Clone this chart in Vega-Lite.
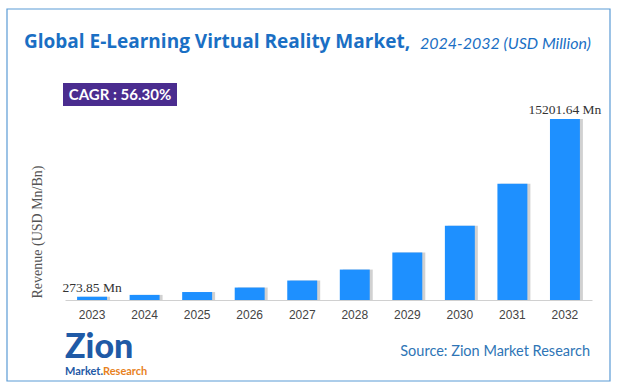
{
  "$schema": "https://vega.github.io/schema/vega-lite/v6.json",
  "width": 527,
  "height": 220,
  "autosize": {"type": "none"},
  "padding": {"left": 65, "right": 26, "top": 80, "bottom": 91},
  "background": "white",
  "config": {"view": {"stroke": null}},
  "data": {"values": [
    {"year": "2023", "revenue": 273.85, "label": "273.85 Mn"},
    {"year": "2024", "revenue": 428, "label": ""},
    {"year": "2025", "revenue": 669, "label": ""},
    {"year": "2026", "revenue": 1046, "label": ""},
    {"year": "2027", "revenue": 1635, "label": ""},
    {"year": "2028", "revenue": 2555, "label": ""},
    {"year": "2029", "revenue": 3994, "label": ""},
    {"year": "2030", "revenue": 6242, "label": ""},
    {"year": "2031", "revenue": 9757, "label": ""},
    {"year": "2032", "revenue": 15201.64, "label": "15201.64 Mn"}
  ]},
  "encoding": {
    "x": {"field": "year", "type": "ordinal", "scale": {"paddingInner": 0.43, "paddingOuter": 0.23},
      "axis": {"title": null, "labelAngle": 0, "ticks": false, "domainColor": "#d0d0d0", "labelFont": "Liberation Sans", "labelFontSize": 12, "labelColor": "#444444", "labelPadding": 9}},
    "y": {"field": "revenue", "type": "quantitative", "scale": {"domain": [0, 18477], "nice": false}, "axis": null}
  },
  "layer": [
    {"mark": {"type": "rect", "x": -58, "x2": 545, "y": -71, "y2": 301, "fill": null, "stroke": "#5b9bd5", "strokeWidth": 1.2}, "encoding": {"x": null, "y": null}, "data": {"values": [{}]}},
    {"mark": {"type": "bar", "color": "#9a9a9a", "opacity": 0.45, "xOffset": 3}},
    {"mark": {"type": "bar", "color": "#1e90ff"}},
    {"mark": {"type": "text", "dy": -9, "font": "Liberation Serif", "fontSize": 13.5, "color": "#333333"}, "encoding": {"text": {"field": "label"}}},
    {"mark": {"type": "text", "x": -41, "y": -38, "align": "left", "baseline": "middle", "font": "Open Sans", "fontWeight": "bold", "fontSize": 19, "color": "#1a6fc4", "text": "Global E-Learning Virtual Reality Market,"}, "encoding": {"x": null, "y": null}, "data": {"values": [{}]}},
    {"mark": {"type": "text", "x": 355, "y": -36, "align": "left", "baseline": "middle", "font": "Lato", "fontStyle": "italic", "fontSize": 16, "color": "#1a6fc4", "text": "2024-2032 (USD Million)"}, "encoding": {"x": null, "y": null}, "data": {"values": [{}]}},
    {"mark": {"type": "rule", "x": -25, "x2": 425, "y": -8, "y2": -8, "stroke": "#f4a460", "strokeDash": [3, 2], "strokeWidth": 1}, "encoding": {"x": null, "y": null}, "data": {"values": [{}]}},
    {"mark": {"type": "rect", "x": -2, "x2": 112, "y": 3, "y2": 26, "fill": "#4a2c8f"}, "encoding": {"x": null, "y": null}, "data": {"values": [{}]}},
    {"mark": {"type": "text", "x": 55, "y": 15, "align": "center", "baseline": "middle", "font": "Lato", "fontWeight": "bold", "fontSize": 15, "color": "white", "text": "CAGR : 56.30%"}, "encoding": {"x": null, "y": null}, "data": {"values": [{}]}},
    {"mark": {"type": "text", "x": -27, "y": 152, "angle": 270, "align": "center", "baseline": "middle", "font": "Liberation Serif", "fontSize": 14, "color": "#555555", "text": "Revenue (USD Mn/Bn)"}, "encoding": {"x": null, "y": null}, "data": {"values": [{}]}},
    {"mark": {"type": "text", "x": 525, "y": 272, "align": "right", "baseline": "middle", "font": "Lato", "fontSize": 14.5, "color": "#2e75b6", "text": "Source: Zion Market Research"}, "encoding": {"x": null, "y": null}, "data": {"values": [{}]}},
    {"mark": {"type": "text", "x": 0, "y": 268, "align": "left", "baseline": "middle", "font": "Lato", "fontWeight": "900", "fontSize": 34, "color": "#1f5aa6", "text": "Zion"}, "encoding": {"x": null, "y": null}, "data": {"values": [{}]}},
    {"mark": {"type": "text", "x": 0, "y": 292, "align": "left", "baseline": "middle", "font": "Lato", "fontWeight": "bold", "fontSize": 11, "color": "#1f5aa6", "text": "Market."}, "encoding": {"x": null, "y": null}, "data": {"values": [{}]}},
    {"mark": {"type": "text", "x": 38, "y": 292, "align": "left", "baseline": "middle", "font": "Lato", "fontWeight": "bold", "fontSize": 11, "color": "#e8821e", "text": "Research"}, "encoding": {"x": null, "y": null}, "data": {"values": [{}]}}
  ]
}
